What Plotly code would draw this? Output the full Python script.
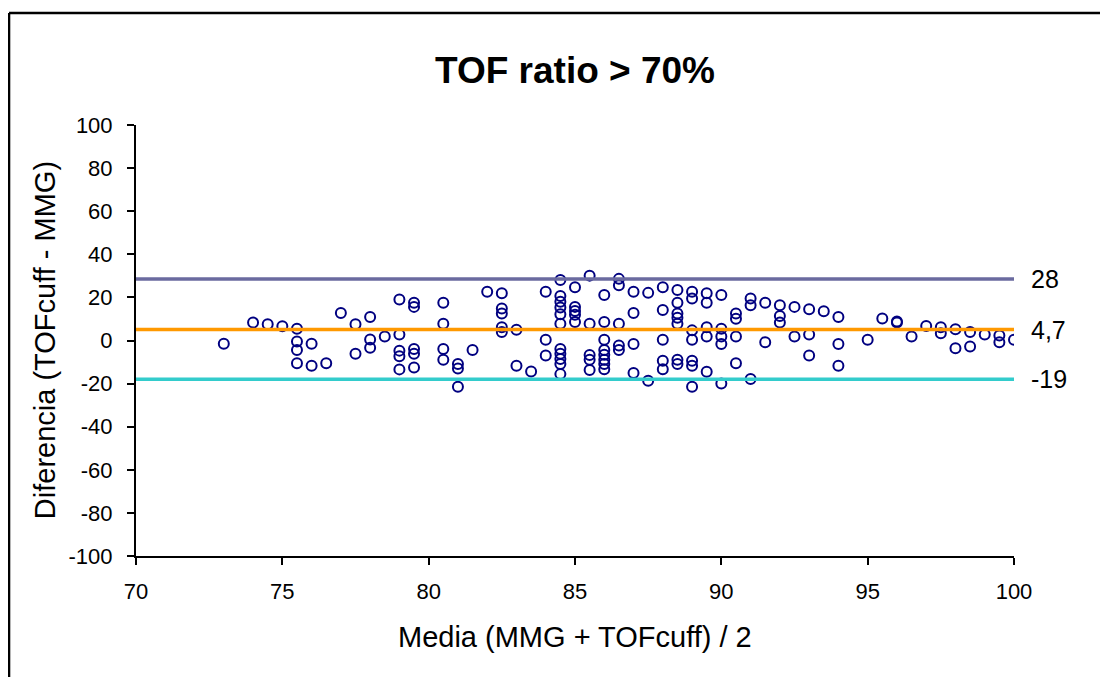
import plotly.graph_objects as go

# Bland-Altman data: media (x) and diferencia (y)
media = [
    73, 74, 74.5, 75, 75.5, 75.5, 75.5, 75.5, 76, 76, 76.5,
    77, 77.5, 77.5, 78, 78, 78, 78.5, 79, 79, 79, 79, 79,
    79.5, 79.5, 79.5, 79.5, 79.5,
    80.5, 80.5, 80.5, 80.5, 81, 81, 81, 81.5,
    82, 82.5, 82.5, 82.5, 82.5, 82.5, 83, 83, 83.5,
    84, 84, 84,
    84.5, 84.5, 84.5, 84.5, 84.5, 84.5, 84.5, 84.5, 84.5, 84.5, 84.5,
    85, 85, 85, 85, 85,
    85.5, 85.5, 85.5, 85.5, 85.5,
    86, 86, 86, 86, 86, 86, 86, 86,
    86.5, 86.5, 86.5, 86.5, 86.5,
    87, 87, 87, 87, 87.5, 87.5,
    88, 88, 88, 88, 88,
    88.5, 88.5, 88.5, 88.5, 88.5, 88.5, 88.5,
    89, 89, 89, 89, 89, 89, 89,
    89.5, 89.5, 89.5, 89.5, 89.5,
    90, 90, 90, 90, 90,
    90.5, 90.5, 90.5, 90.5,
    91, 91, 91, 91.5, 91.5,
    92, 92, 92, 92.5, 92.5, 93, 93, 93, 93.5,
    94, 94, 94, 95, 95.5, 96, 96, 96.5, 97, 97.5, 97.5,
    98, 98, 98.5, 98.5, 99, 99.5, 99.5, 100,
]
diferencia = [
    -1.5, 8.3, 7.5, 6.6, 5.5, -0.5, -4.4, -10.6, -1.5, -11.7, -10.6,
    12.8, 7.5, -6.2, 10.9, 0.5, -3.4, 1.9, 19.0, 2.8, -4.7, -7.3, -13.4,
    17.5, 15.6, -3.9, -6.2, -12.5,
    17.5, 7.8, -3.9, -8.9, -10.9, -13.0, -21.5, -4.4,
    22.6, 21.9, 14.8, 12.5, 6.2, 3.9, 5.0, -11.7, -14.4,
    22.6, 0.3, -7.0,
    28.1, 20.6, 18.0, 15.3, 12.2, 7.8, -3.9, -6.2, -8.6, -10.9, -15.6,
    24.7, 15.6, 13.7, 12.0, 8.6,
    30.1, 7.8, -6.7, -8.9, -13.7,
    21.1, 8.6, 0.3, -4.4, -6.6, -8.9, -10.9, -13.3,
    28.6, 25.6, 7.8, -2.3, -4.4,
    22.6, 12.8, -1.6, -15.1, 22.1, -18.7,
    24.7, 14.2, 0.3, -9.4, -13.3,
    23.4, 17.5, 12.5, 10.6, 7.8, -8.9, -10.9,
    22.6, 19.5, 4.7, 0.3, -9.4, -11.7, -21.5,
    21.9, 17.5, 6.2, 1.9, -14.5,
    21.1, 5.5, 1.9, -1.6, -20.0,
    12.5, 10.1, 1.9, -10.6,
    19.5, 16.4, -17.9, 17.5, -0.8,
    16.4, 11.4, 8.4, 15.6, 1.9, 14.5, 2.8, -7.0, 13.6,
    10.9, -1.6, -11.7, 0.3, 10.2, 8.3, 8.8, 1.9, 6.7, 6.2, 3.4,
    5.2, -3.6, 3.9, -2.8, 2.8, 2.3, -0.8, 0.3,
]

# Reference lines (upper limit, mean, lower limit)
line_values = [28.5, 5.1, -18.0]
line_labels = ["28", "4,7", "-19"]
line_colors = ["#6A6A9F", "#FF9900", "#33CCCC"]

x_range = [70, 100]
x_ticks = list(range(70, 101, 5))
y_ticks = list(range(-100, 101, 20))
y_ticktext = [str(v) for v in y_ticks]  # plain hyphen minus

font_family = "Liberation Sans, Arial, sans-serif"

fig = go.Figure()

fig.add_trace(go.Scatter(
    x=media, y=diferencia, mode="markers",
    marker=dict(symbol="circle-open", size=10, color="#000080",
                line=dict(width=2, color="#000080")),
    showlegend=False, hoverinfo="x+y",
))

for v, c in zip(line_values, line_colors):
    fig.add_trace(go.Scatter(
        x=x_range, y=[v, v], mode="lines",
        line=dict(color=c, width=3.5),
        showlegend=False, hoverinfo="skip",
    ))

annotations = []
for v, lab in zip(line_values, line_labels):
    annotations.append(dict(
        xref="paper", yref="y", x=1.0175, y=v, text=lab,
        showarrow=False, xanchor="left", yanchor="middle",
        font=dict(family=font_family, size=25, color="black"),
    ))

annotations.append(dict(
    xref="paper", yref="paper", x=-0.104, y=0.5,
    text="Diferencia (TOFcuff - MMG)", textangle=-90, showarrow=False,
    xanchor="center", yanchor="middle",
    font=dict(family=font_family, size=29, color="black"),
))
annotations.append(dict(
    xref="paper", yref="paper", x=0.5, y=-0.188,
    text="Media (MMG + TOFcuff) / 2", showarrow=False,
    xanchor="center", yanchor="middle",
    font=dict(family=font_family, size=29, color="black"),
))

fig.update_layout(
    width=1100, height=669,
    margin=dict(l=128, r=94, t=117, b=121),
    paper_bgcolor="white", plot_bgcolor="white",
    title=dict(text="<b>TOF ratio > 70%</b>", x=0.5, xref="paper",
               y=1 - 62 / 669, yref="container", yanchor="middle",
               xanchor="center",
               font=dict(family=font_family, size=37, color="black")),
    annotations=annotations,
    shapes=[
        dict(type="line", xref="paper", yref="paper",
             x0=-0.1446, x1=-0.1446, y0=1.2599, y1=-0.35,
             line=dict(color="black", width=2.5)),
        dict(type="line", xref="paper", yref="paper",
             x0=-0.1446, x1=1.25, y0=1.2599, y1=1.2599,
             line=dict(color="black", width=2.5)),
    ],
)

fig.update_xaxes(
    range=x_range, tickmode="array", tickvals=x_ticks,
    showline=True, linecolor="black", linewidth=2,
    ticks="outside", ticklen=7, tickwidth=2, tickcolor="black",
    ticklabelstandoff=8,
    showgrid=False, zeroline=False,
    tickfont=dict(family=font_family, size=22, color="black"),
)
fig.update_yaxes(
    range=[-100, 100], tickmode="array", tickvals=y_ticks, ticktext=y_ticktext,
    showline=True, linecolor="black", linewidth=2,
    ticks="outside", ticklen=7, tickwidth=2, tickcolor="black",
    ticklabelstandoff=10,
    showgrid=False, zeroline=False,
    tickfont=dict(family=font_family, size=22, color="black"),
)

fig.write_html("out.html")
